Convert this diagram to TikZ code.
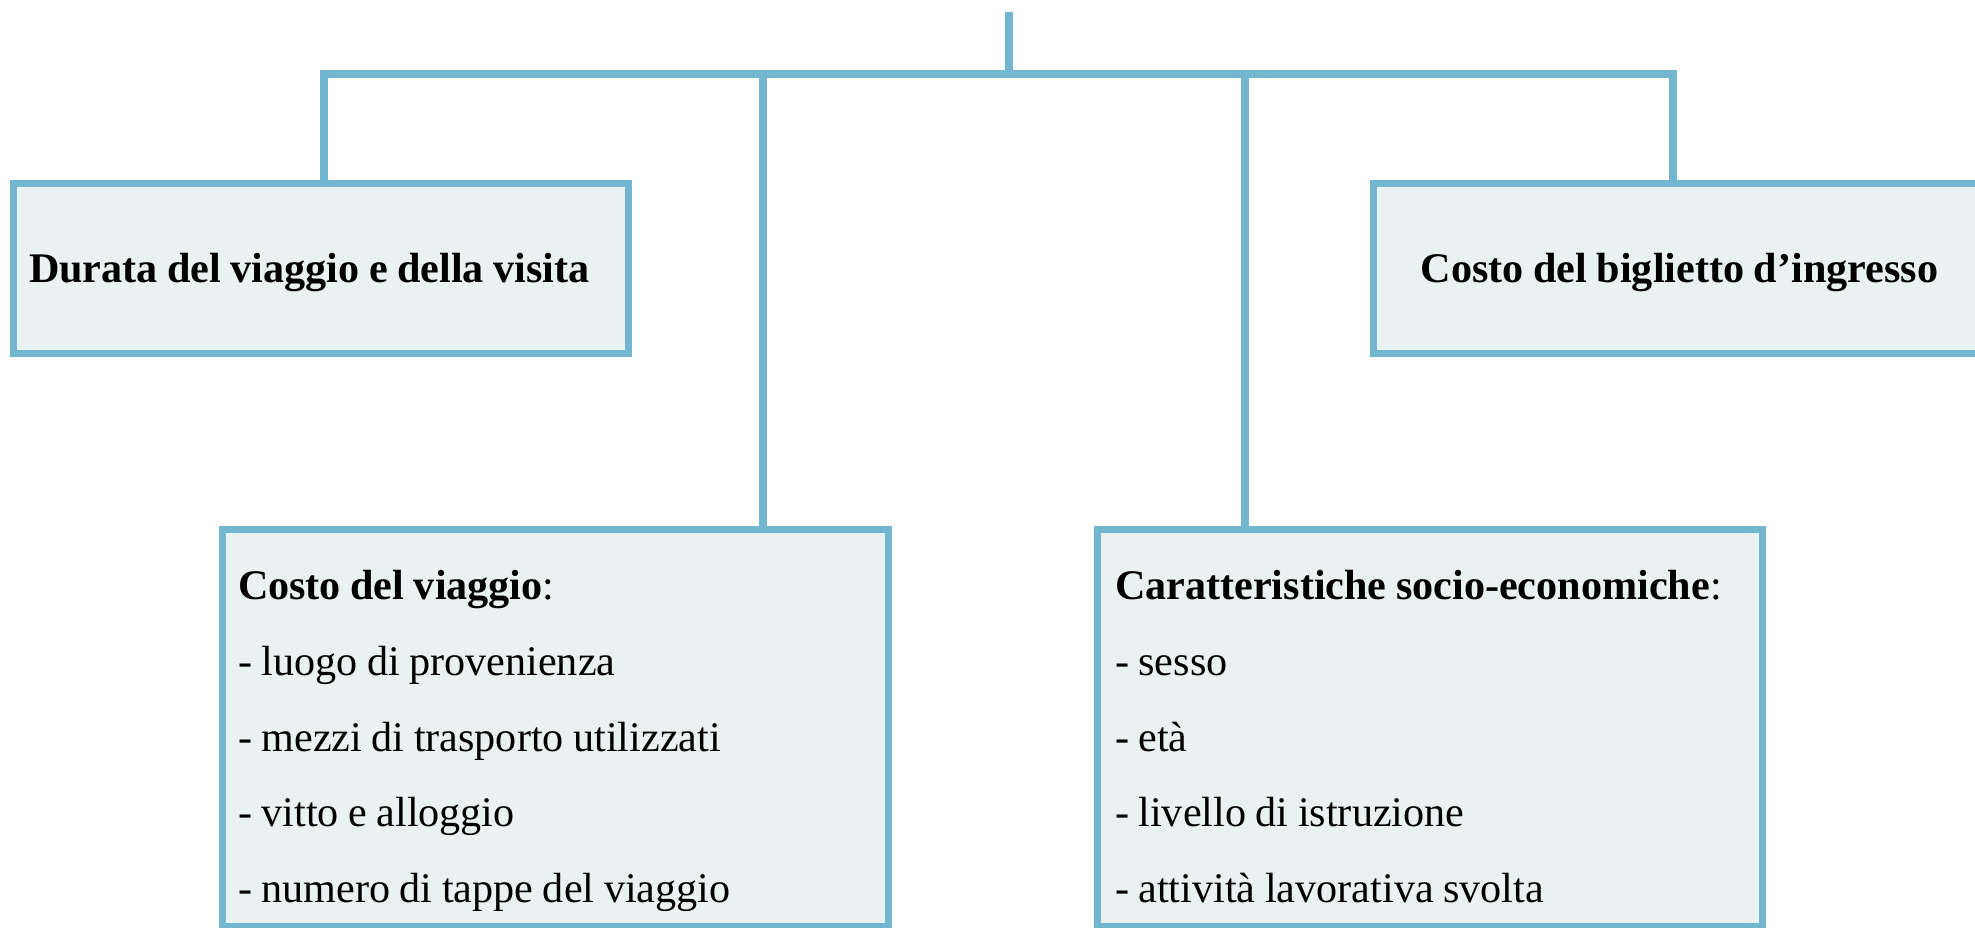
\documentclass[tikz,border=0pt]{standalone}
\usepackage{fontspec}
\setmainfont{Liberation Serif}[WordSpace=0.9]
\usepackage{tikz}
\definecolor{TreeBlue}{RGB}{114,182,207}
\definecolor{TreeFill}{RGB}{233,241,241}

\begin{document}
\begin{tikzpicture}[
      font=\fontsize{12}{21.5}\selectfont,
      topbox/.style={draw=TreeBlue, line width=0.07cm, fill=TreeFill, anchor=north west,
                     outer sep=0pt, inner xsep=0.16cm, inner ysep=0pt,
                     text height=0.99cm, text depth=0.705cm,
                     font=\fontsize{12}{14}\selectfont\bfseries},
      listbox/.style={draw=TreeBlue, line width=0.07cm, fill=TreeFill, anchor=north west,
                      outer sep=0pt, inner ysep=0pt, align=flush left,
                      text height=0.70cm, text depth=3.27cm},
      link/.style={draw=TreeBlue, line width=0.08cm}
    ]
    \useasboundingbox (0,0) rectangle (19.75,-9.28);

    \node[topbox, text width=5.83cm, align=flush left] (durata) at (0.13,-1.84) {Durata del viaggio e della visita};
    \node[topbox, text width=5.81cm, align=flush center] (biglietto) at (13.73,-1.84) {Costo del biglietto d’ingresso};

    \node[listbox, inner xsep=0.16cm, text width=6.34cm] (viaggio) at (2.22,-5.30)
      {\textbf{Costo del viaggio}:\\- luogo di provenienza\\- mezzi di trasporto utilizzati\\- vitto e alloggio\\- numero di tappe del viaggio};
    \node[listbox, inner xsep=0.18cm, text width=6.29cm] (socio) at (10.97,-5.30)
      {\textbf{Caratteristiche socio-economiche}:\\- sesso\\- età\\- livello di istruzione\\- attività lavorativa svolta};

    \coordinate (top) at (10.09,-0.12);
    \coordinate (hub) at (10.09,-0.74);
    \coordinate (jA) at (3.24,-0.74);
    \coordinate (jB) at (7.63,-0.74);
    \coordinate (jC) at (12.45,-0.74);
    \coordinate (jD) at (16.73,-0.74);

    \draw[link] (top) -- (hub);
    \draw[link] (jA |- durata.north) -- (jA) -- (jD) -- (jD |- biglietto.north);
    \draw[link] (jB) -- (jB |- viaggio.north);
    \draw[link] (jC) -- (jC |- socio.north);
  \end{tikzpicture}
\end{document}
